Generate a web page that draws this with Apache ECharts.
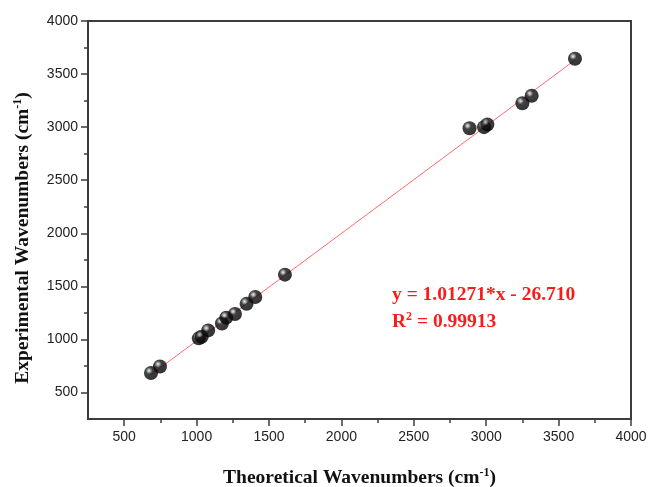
<!DOCTYPE html>
<html>
<head>
<meta charset="utf-8">
<script src="https://cdn.jsdelivr.net/npm/echarts@6/dist/echarts.min.js"></script>
<style>
  html, body { margin: 0; padding: 0; background: #fff; }
  #main { width: 651px; height: 487px; }
</style>
</head>
<body>
<div id="main"></div>
<script>
var myChart = echarts.init(document.getElementById('main'));

// values
var theoretical = [685, 747, 1015, 1035, 1080, 1175, 1205, 1265, 1345, 1405, 1610, 2885, 2985, 3008, 3250, 3314, 3613];
var experimental = [683, 745, 1010, 1025, 1085, 1150, 1205, 1240, 1335, 1400, 1610, 2990, 3000, 3025, 3225, 3295, 3645];
var fitX = [680, 3615];
var fitY = [662, 3634];
var majorTicks = [500, 1000, 1500, 2000, 2500, 3000, 3500, 4000];
var minorTicks = [750, 1250, 1750, 2250, 2750, 3250, 3750];

var points = theoretical.map(function (v, i) { return [v, experimental[i]]; });
var fitLine = fitX.map(function (v, i) { return [v, fitY[i]]; });

var axisCol = '#3c3c3c';
var serif = 'Liberation Serif, Times New Roman, serif';
var labelFont = { color: '#222', fontSize: 14, fontFamily: 'Liberation Sans, Arial, sans-serif' };
var nameRich = {
    b: { fontFamily: serif, fontWeight: 'bold', fontSize: 19.5, color: '#111' },
    s: { fontFamily: serif, fontWeight: 'bold', fontSize: 12, color: '#111', padding: [0, 0, 10, 0] }
};

function mainAxis(name, gap, rotate) {
    return {
        type: 'value', min: 250, max: 4000, interval: 250,
        name: name, nameLocation: 'middle', nameGap: gap, nameRotate: rotate,
        nameTextStyle: { rich: nameRich },
        axisLine: { show: true, lineStyle: { color: axisCol, width: 2 } },
        axisTick: { show: true, length: 7, customValues: majorTicks, lineStyle: { color: axisCol, width: 1.5 } },
        axisLabel: Object.assign({ customValues: majorTicks, margin: 10, formatter: function (v) { return String(v); } }, labelFont),
        splitLine: { show: false }
    };
}
function minorAxis() {
    return {
        type: 'value', min: 250, max: 4000, interval: 250,
        axisLine: { show: false },
        axisTick: { show: true, length: 4, customValues: minorTicks, lineStyle: { color: axisCol, width: 1.5 } },
        axisLabel: { show: false },
        splitLine: { show: false }
    };
}

var xMain = mainAxis('{b|Theoretical Wavenumbers (cm}{s|-1}{b|)}', 48, 0);
var yMain = mainAxis('{b|Experimental Wavenumbers (cm}{s|-1}{b|)}', 54, 90);
yMain.nameTextStyle.padding = [0, 36, 0, 0];
xMain.axisLabel.margin = 11;
var xMinor = minorAxis(); xMinor.position = 'bottom';
var yMinor = minorAxis(); yMinor.position = 'left';

myChart.setOption({
    animation: false,
    grid: { left: 88, right: 20, top: 21, bottom: 68, outerBoundsMode: 'none', containLabel: false,
            show: true, borderColor: axisCol, borderWidth: 2 },
    xAxis: [xMain, xMinor],
    yAxis: [yMain, yMinor],
    series: [{
        type: 'line',
        data: fitLine,
        symbol: 'none',
        lineStyle: { color: '#ff6a6a', width: 1 },
        z: 1
    }, {
        type: 'scatter',
        data: points,
        symbolSize: 14,
        itemStyle: {
            color: {
                type: 'radial', x: 0.36, y: 0.33, r: 0.7,
                colorStops: [
                    { offset: 0, color: '#f0f0f0' },
                    { offset: 0.14, color: '#999' },
                    { offset: 0.35, color: '#111' },
                    { offset: 1, color: '#000' }
                ]
            }
        },
        z: 2
    }],
    graphic: [{
        type: 'text', left: 392, top: 285,
        style: {
            text: 'y = 1.01271*x - 26.710',
            fill: '#ff1a1a', fontSize: 19.5, fontWeight: 'bold', fontFamily: serif
        }
    }, {
        type: 'text', left: 392, top: 311,
        style: {
            text: '{r|R}{s|2}{r| = 0.99913}',
            rich: {
                r: { fill: '#ff1a1a', fontSize: 19.5, fontWeight: 'bold', fontFamily: serif },
                s: { fill: '#ff1a1a', fontSize: 12, fontWeight: 'bold', fontFamily: serif, padding: [0, 0, 10, 0] }
            }
        }
    }]
});
</script>
</body>
</html>
